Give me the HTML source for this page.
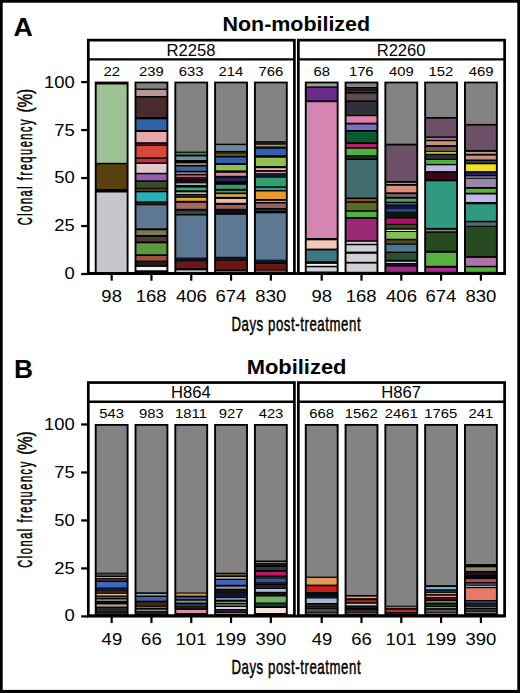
<!DOCTYPE html>
<html><head><meta charset="utf-8"><style>
html,body{margin:0;padding:0;background:#fff;}
body{width:520px;height:693px;overflow:hidden;}
svg{display:block;font-family:"Liberation Sans", sans-serif;}
</style></head><body>
<svg width="520" height="693" viewBox="0 0 520 693">
<rect x="0" y="0" width="520" height="693" fill="#fff"/>
<text x="13.51" y="35.80" font-size="26.31" font-weight="bold" textLength="19.29" lengthAdjust="spacingAndGlyphs" fill="#000">A</text>
<text x="222.49" y="31.40" font-size="20.30" font-weight="bold" textLength="147.59" lengthAdjust="spacingAndGlyphs" fill="#000">Non-mobilized</text>
<rect x="88.30" y="40.15" width="206.10" height="233.15" fill="#fff" stroke="#000" stroke-width="2.7"/>
<line x1="88.30" y1="59.35" x2="294.40" y2="59.35" stroke="#000" stroke-width="2.4"/>
<text x="166.58" y="55.70" font-size="16.60" font-weight="normal" textLength="48.92" lengthAdjust="spacingAndGlyphs">R2258</text>
<text x="103.41" y="76.00" font-size="13.60" font-weight="normal" textLength="16.49" lengthAdjust="spacingAndGlyphs">22</text>
<text x="139.07" y="76.00" font-size="13.60" font-weight="normal" textLength="24.73" lengthAdjust="spacingAndGlyphs">239</text>
<text x="178.84" y="76.00" font-size="13.60" font-weight="normal" textLength="24.73" lengthAdjust="spacingAndGlyphs">633</text>
<text x="218.52" y="76.00" font-size="13.60" font-weight="normal" textLength="24.73" lengthAdjust="spacingAndGlyphs">214</text>
<text x="258.43" y="76.00" font-size="13.60" font-weight="normal" textLength="24.73" lengthAdjust="spacingAndGlyphs">766</text>
<rect x="94.75" y="81.60" width="33.80" height="191.90" fill="#000"/>
<rect x="96.65" y="84.50" width="30.00" height="78.30" fill="#9ec296"/>
<rect x="96.65" y="164.30" width="30.00" height="24.70" fill="#5a400c"/>
<rect x="96.65" y="192.50" width="30.00" height="79.50" fill="#c8c6cb"/>
<rect x="134.55" y="81.60" width="33.80" height="191.90" fill="#000"/>
<rect x="136.45" y="83.40" width="30.00" height="5.20" fill="#838383"/>
<rect x="136.45" y="89.90" width="30.00" height="6.10" fill="#b49896"/>
<rect x="136.45" y="97.50" width="30.00" height="19.50" fill="#4a2a2c"/>
<rect x="136.45" y="119.30" width="30.00" height="10.70" fill="#2f62a8"/>
<rect x="136.45" y="132.00" width="30.00" height="10.20" fill="#e6a8aa"/>
<rect x="136.45" y="143.50" width="30.00" height="1.50" fill="#401818"/>
<rect x="136.45" y="145.80" width="30.00" height="11.60" fill="#d8483a"/>
<rect x="136.45" y="158.80" width="30.00" height="3.60" fill="#b83050"/>
<rect x="136.45" y="163.90" width="30.00" height="8.90" fill="#e2c8c8"/>
<rect x="136.45" y="174.30" width="30.00" height="6.00" fill="#9060a8"/>
<rect x="136.45" y="181.80" width="30.00" height="6.00" fill="#3b4a2b"/>
<rect x="136.45" y="188.80" width="30.00" height="2.00" fill="#5a4020"/>
<rect x="136.45" y="192.30" width="30.00" height="9.00" fill="#2ab0b8"/>
<rect x="136.45" y="202.50" width="30.00" height="1.80" fill="#2a2010"/>
<rect x="136.45" y="205.30" width="30.00" height="23.00" fill="#5c7892"/>
<rect x="136.45" y="230.30" width="30.00" height="4.70" fill="#7a7a50"/>
<rect x="136.45" y="236.90" width="30.00" height="4.50" fill="#4a4030"/>
<rect x="136.45" y="243.30" width="30.00" height="11.00" fill="#5a9a3a"/>
<rect x="136.45" y="256.00" width="30.00" height="4.60" fill="#a05040"/>
<rect x="136.45" y="262.00" width="30.00" height="3.50" fill="#2a1a1a"/>
<rect x="136.45" y="266.90" width="30.00" height="3.40" fill="#f0f0f0"/>
<rect x="174.35" y="81.60" width="33.80" height="191.90" fill="#000"/>
<rect x="176.25" y="83.40" width="30.00" height="68.20" fill="#838383"/>
<rect x="176.25" y="152.80" width="30.00" height="1.80" fill="#4a8a5a"/>
<rect x="176.25" y="156.50" width="30.00" height="3.50" fill="#7090a0"/>
<rect x="176.25" y="163.30" width="30.00" height="1.60" fill="#b0a050"/>
<rect x="176.25" y="166.50" width="30.00" height="4.30" fill="#3a64a8"/>
<rect x="176.25" y="172.50" width="30.00" height="1.30" fill="#c8a888"/>
<rect x="176.25" y="175.50" width="30.00" height="1.30" fill="#d09090"/>
<rect x="176.25" y="177.30" width="30.00" height="2.20" fill="#401020"/>
<rect x="176.25" y="180.50" width="30.00" height="1.80" fill="#101830"/>
<rect x="176.25" y="183.30" width="30.00" height="1.70" fill="#b0b0b0"/>
<rect x="176.25" y="187.60" width="30.00" height="2.70" fill="#30a890"/>
<rect x="176.25" y="192.30" width="30.00" height="1.70" fill="#b8b0a0"/>
<rect x="176.25" y="195.00" width="30.00" height="1.80" fill="#183020"/>
<rect x="176.25" y="197.80" width="30.00" height="3.00" fill="#e0a830"/>
<rect x="176.25" y="202.80" width="30.00" height="6.00" fill="#a86860"/>
<rect x="176.25" y="210.70" width="30.00" height="3.30" fill="#2a4a40"/>
<rect x="176.25" y="215.50" width="30.00" height="42.10" fill="#5c7892"/>
<rect x="176.25" y="258.30" width="30.00" height="2.00" fill="#101830"/>
<rect x="176.25" y="261.30" width="30.00" height="6.80" fill="#6a1818"/>
<rect x="176.25" y="270.30" width="30.00" height="1.70" fill="#c0c0c0"/>
<rect x="214.15" y="81.60" width="33.80" height="191.90" fill="#000"/>
<rect x="216.05" y="83.40" width="30.00" height="60.30" fill="#838383"/>
<rect x="216.05" y="145.10" width="30.00" height="5.80" fill="#6a8a98"/>
<rect x="216.05" y="152.30" width="30.00" height="2.20" fill="#3a2a10"/>
<rect x="216.05" y="154.50" width="30.00" height="1.00" fill="#b09060"/>
<rect x="216.05" y="157.40" width="30.00" height="5.70" fill="#3060b0"/>
<rect x="216.05" y="165.00" width="30.00" height="5.40" fill="#90c050"/>
<rect x="216.05" y="172.80" width="30.00" height="3.00" fill="#e08890"/>
<rect x="216.05" y="177.70" width="30.00" height="3.60" fill="#302060"/>
<rect x="216.05" y="184.80" width="30.00" height="4.00" fill="#30a070"/>
<rect x="216.05" y="190.80" width="30.00" height="1.70" fill="#5090a0"/>
<rect x="216.05" y="194.20" width="30.00" height="2.60" fill="#e0b040"/>
<rect x="216.05" y="199.00" width="30.00" height="3.80" fill="#f0b8a8"/>
<rect x="216.05" y="205.00" width="30.00" height="3.80" fill="#a06060"/>
<rect x="216.05" y="209.80" width="30.00" height="3.70" fill="#101018"/>
<rect x="216.05" y="214.80" width="30.00" height="42.00" fill="#5c7892"/>
<rect x="216.05" y="257.80" width="30.00" height="1.80" fill="#101830"/>
<rect x="216.05" y="260.60" width="30.00" height="9.00" fill="#6a1515"/>
<rect x="216.05" y="271.00" width="30.00" height="1.00" fill="#905050"/>
<rect x="253.95" y="81.60" width="33.80" height="191.90" fill="#000"/>
<rect x="255.85" y="83.40" width="30.00" height="57.80" fill="#838383"/>
<rect x="255.85" y="142.20" width="30.00" height="1.60" fill="#202020"/>
<rect x="255.85" y="144.70" width="30.00" height="1.80" fill="#a09a50"/>
<rect x="255.85" y="148.70" width="30.00" height="6.50" fill="#3060b0"/>
<rect x="255.85" y="157.70" width="30.00" height="8.30" fill="#90c048"/>
<rect x="255.85" y="168.20" width="30.00" height="1.80" fill="#f0b8a0"/>
<rect x="255.85" y="171.80" width="30.00" height="1.40" fill="#d09090"/>
<rect x="255.85" y="174.00" width="30.00" height="3.00" fill="#101830"/>
<rect x="255.85" y="177.70" width="30.00" height="8.60" fill="#30a070"/>
<rect x="255.85" y="187.80" width="30.00" height="2.20" fill="#3a9a9a"/>
<rect x="255.85" y="191.50" width="30.00" height="7.50" fill="#e89a28"/>
<rect x="255.85" y="200.80" width="30.00" height="1.20" fill="#c0a080"/>
<rect x="255.85" y="203.50" width="30.00" height="4.50" fill="#9a6060"/>
<rect x="255.85" y="209.50" width="30.00" height="1.50" fill="#303040"/>
<rect x="255.85" y="213.30" width="30.00" height="46.50" fill="#5c7892"/>
<rect x="255.85" y="259.80" width="30.00" height="2.70" fill="#101830"/>
<rect x="255.85" y="263.90" width="30.00" height="5.70" fill="#6a1818"/>
<rect x="255.85" y="270.50" width="30.00" height="1.50" fill="#8a4a4a"/>
<line x1="111.65" y1="273.70" x2="111.65" y2="280.70" stroke="#000" stroke-width="2.2"/>
<text x="101.36" y="302.20" font-size="16.50" font-weight="normal" textLength="20.56" lengthAdjust="spacingAndGlyphs">98</text>
<line x1="151.45" y1="273.70" x2="151.45" y2="280.70" stroke="#000" stroke-width="2.2"/>
<text x="135.74" y="302.20" font-size="16.50" font-weight="normal" textLength="30.83" lengthAdjust="spacingAndGlyphs">168</text>
<line x1="191.25" y1="273.70" x2="191.25" y2="280.70" stroke="#000" stroke-width="2.2"/>
<text x="176.04" y="302.20" font-size="16.50" font-weight="normal" textLength="30.83" lengthAdjust="spacingAndGlyphs">406</text>
<line x1="231.05" y1="273.70" x2="231.05" y2="280.70" stroke="#000" stroke-width="2.2"/>
<text x="215.43" y="302.20" font-size="16.50" font-weight="normal" textLength="30.83" lengthAdjust="spacingAndGlyphs">674</text>
<line x1="270.85" y1="273.70" x2="270.85" y2="280.70" stroke="#000" stroke-width="2.2"/>
<text x="255.38" y="302.20" font-size="16.50" font-weight="normal" textLength="30.83" lengthAdjust="spacingAndGlyphs">830</text>
<rect x="298.35" y="40.15" width="206.25" height="233.15" fill="#fff" stroke="#000" stroke-width="2.7"/>
<line x1="298.35" y1="59.35" x2="504.60" y2="59.35" stroke="#000" stroke-width="2.4"/>
<text x="376.66" y="55.70" font-size="16.60" font-weight="normal" textLength="48.92" lengthAdjust="spacingAndGlyphs">R2260</text>
<text x="313.41" y="76.00" font-size="13.60" font-weight="normal" textLength="16.49" lengthAdjust="spacingAndGlyphs">68</text>
<text x="348.90" y="76.00" font-size="13.60" font-weight="normal" textLength="24.73" lengthAdjust="spacingAndGlyphs">176</text>
<text x="389.13" y="76.00" font-size="13.60" font-weight="normal" textLength="24.73" lengthAdjust="spacingAndGlyphs">409</text>
<text x="428.54" y="76.00" font-size="13.60" font-weight="normal" textLength="24.73" lengthAdjust="spacingAndGlyphs">152</text>
<text x="468.73" y="76.00" font-size="13.60" font-weight="normal" textLength="24.73" lengthAdjust="spacingAndGlyphs">469</text>
<rect x="304.80" y="81.60" width="33.80" height="191.90" fill="#000"/>
<rect x="306.70" y="83.40" width="30.00" height="3.00" fill="#9aa098"/>
<rect x="306.70" y="87.80" width="30.00" height="12.60" fill="#6a2a8a"/>
<rect x="306.70" y="102.20" width="30.00" height="135.80" fill="#d585b2"/>
<rect x="306.70" y="240.30" width="30.00" height="8.30" fill="#f4c8b8"/>
<rect x="306.70" y="250.40" width="30.00" height="10.90" fill="#3a7a80"/>
<rect x="306.70" y="263.90" width="30.00" height="1.90" fill="#f0f0f0"/>
<rect x="306.70" y="267.30" width="30.00" height="4.20" fill="#d0d0d8"/>
<rect x="344.60" y="81.60" width="33.80" height="191.90" fill="#000"/>
<rect x="346.50" y="83.40" width="30.00" height="3.60" fill="#838383"/>
<rect x="346.50" y="88.40" width="30.00" height="1.10" fill="#3a3030"/>
<rect x="346.50" y="90.50" width="30.00" height="1.50" fill="#3a3030"/>
<rect x="346.50" y="93.60" width="30.00" height="6.80" fill="#5a4a50"/>
<rect x="346.50" y="101.80" width="30.00" height="13.00" fill="#303038"/>
<rect x="346.50" y="116.20" width="30.00" height="6.50" fill="#e080b0"/>
<rect x="346.50" y="124.50" width="30.00" height="5.50" fill="#7a70c0"/>
<rect x="346.50" y="131.70" width="30.00" height="10.50" fill="#0a5a30"/>
<rect x="346.50" y="144.10" width="30.00" height="2.90" fill="#c02070"/>
<rect x="346.50" y="148.70" width="30.00" height="6.50" fill="#50b040"/>
<rect x="346.50" y="156.50" width="30.00" height="2.00" fill="#203020"/>
<rect x="346.50" y="160.00" width="30.00" height="37.50" fill="#416c70"/>
<rect x="346.50" y="199.00" width="30.00" height="2.30" fill="#8a5030"/>
<rect x="346.50" y="202.80" width="30.00" height="7.50" fill="#5a6a20"/>
<rect x="346.50" y="211.80" width="30.00" height="5.20" fill="#50b040"/>
<rect x="346.50" y="218.80" width="30.00" height="21.50" fill="#9c2878"/>
<rect x="346.50" y="241.80" width="30.00" height="2.00" fill="#d0d0d4"/>
<rect x="346.50" y="245.30" width="30.00" height="6.30" fill="#d0d0d4"/>
<rect x="346.50" y="253.80" width="30.00" height="8.00" fill="#d0d0d4"/>
<rect x="346.50" y="263.60" width="30.00" height="8.20" fill="#d0d0d4"/>
<rect x="384.40" y="81.60" width="33.80" height="191.90" fill="#000"/>
<rect x="386.30" y="83.40" width="30.00" height="60.30" fill="#838383"/>
<rect x="386.30" y="145.50" width="30.00" height="35.50" fill="#6b5068"/>
<rect x="386.30" y="182.80" width="30.00" height="1.20" fill="#b09080"/>
<rect x="386.30" y="185.80" width="30.00" height="6.50" fill="#d89078"/>
<rect x="386.30" y="194.20" width="30.00" height="2.60" fill="#806878"/>
<rect x="386.30" y="198.70" width="30.00" height="3.00" fill="#50a060"/>
<rect x="386.30" y="203.20" width="30.00" height="1.30" fill="#5070a0"/>
<rect x="386.30" y="205.50" width="30.00" height="3.00" fill="#101840"/>
<rect x="386.30" y="208.80" width="30.00" height="3.00" fill="#304090"/>
<rect x="386.30" y="212.50" width="30.00" height="4.50" fill="#0a1a0a"/>
<rect x="386.30" y="218.50" width="30.00" height="5.30" fill="#b0106a"/>
<rect x="386.30" y="224.80" width="30.00" height="3.50" fill="#3a4a18"/>
<rect x="386.30" y="229.80" width="30.00" height="1.20" fill="#e0e0e0"/>
<rect x="386.30" y="232.00" width="30.00" height="6.80" fill="#80c050"/>
<rect x="386.30" y="240.30" width="30.00" height="3.20" fill="#504a30"/>
<rect x="386.30" y="244.80" width="30.00" height="6.80" fill="#4a7890"/>
<rect x="386.30" y="253.00" width="30.00" height="6.80" fill="#2a5030"/>
<rect x="386.30" y="261.80" width="30.00" height="1.20" fill="#c8c8e0"/>
<rect x="386.30" y="264.00" width="30.00" height="1.50" fill="#101020"/>
<rect x="386.30" y="266.60" width="30.00" height="5.20" fill="#a02888"/>
<rect x="424.20" y="81.60" width="33.80" height="191.90" fill="#000"/>
<rect x="426.10" y="83.40" width="30.00" height="33.60" fill="#838383"/>
<rect x="426.10" y="118.70" width="30.00" height="17.70" fill="#6b5068"/>
<rect x="426.10" y="137.90" width="30.00" height="1.90" fill="#9878a0"/>
<rect x="426.10" y="141.20" width="30.00" height="3.90" fill="#c89070"/>
<rect x="426.10" y="147.00" width="30.00" height="3.90" fill="#6a5a60"/>
<rect x="426.10" y="151.90" width="30.00" height="1.90" fill="#c0c040"/>
<rect x="426.10" y="155.20" width="30.00" height="3.60" fill="#303030"/>
<rect x="426.10" y="160.00" width="30.00" height="3.90" fill="#50b040"/>
<rect x="426.10" y="165.30" width="30.00" height="5.80" fill="#c0b8e0"/>
<rect x="426.10" y="172.70" width="30.00" height="6.80" fill="#380818"/>
<rect x="426.10" y="181.30" width="30.00" height="46.60" fill="#309a80"/>
<rect x="426.10" y="229.80" width="30.00" height="1.50" fill="#808890"/>
<rect x="426.10" y="232.80" width="30.00" height="18.00" fill="#274a20"/>
<rect x="426.10" y="252.80" width="30.00" height="13.00" fill="#58b040"/>
<rect x="426.10" y="267.80" width="30.00" height="4.00" fill="#b02890"/>
<rect x="464.00" y="81.60" width="33.80" height="191.90" fill="#000"/>
<rect x="465.90" y="83.40" width="30.00" height="40.50" fill="#838383"/>
<rect x="465.90" y="125.60" width="30.00" height="24.30" fill="#6b5068"/>
<rect x="465.90" y="151.90" width="30.00" height="1.90" fill="#c09888"/>
<rect x="465.90" y="155.60" width="30.00" height="3.90" fill="#c89080"/>
<rect x="465.90" y="161.00" width="30.00" height="1.80" fill="#404040"/>
<rect x="465.90" y="164.30" width="30.00" height="6.80" fill="#f0e020"/>
<rect x="465.90" y="172.50" width="30.00" height="2.50" fill="#202060"/>
<rect x="465.90" y="176.20" width="30.00" height="1.80" fill="#707078"/>
<rect x="465.90" y="178.80" width="30.00" height="8.20" fill="#9888a8"/>
<rect x="465.90" y="188.80" width="30.00" height="3.90" fill="#60b040"/>
<rect x="465.90" y="194.50" width="30.00" height="7.50" fill="#c0b8e8"/>
<rect x="465.90" y="204.30" width="30.00" height="16.50" fill="#309a80"/>
<rect x="465.90" y="222.30" width="30.00" height="3.50" fill="#506870"/>
<rect x="465.90" y="226.80" width="30.00" height="29.30" fill="#274a20"/>
<rect x="465.90" y="257.90" width="30.00" height="7.90" fill="#b070a8"/>
<rect x="465.90" y="267.30" width="30.00" height="4.50" fill="#50b040"/>
<line x1="321.70" y1="273.70" x2="321.70" y2="280.70" stroke="#000" stroke-width="2.2"/>
<text x="311.41" y="302.20" font-size="16.50" font-weight="normal" textLength="20.56" lengthAdjust="spacingAndGlyphs">98</text>
<line x1="361.50" y1="273.70" x2="361.50" y2="280.70" stroke="#000" stroke-width="2.2"/>
<text x="345.79" y="302.20" font-size="16.50" font-weight="normal" textLength="30.83" lengthAdjust="spacingAndGlyphs">168</text>
<line x1="401.30" y1="273.70" x2="401.30" y2="280.70" stroke="#000" stroke-width="2.2"/>
<text x="386.09" y="302.20" font-size="16.50" font-weight="normal" textLength="30.83" lengthAdjust="spacingAndGlyphs">406</text>
<line x1="441.10" y1="273.70" x2="441.10" y2="280.70" stroke="#000" stroke-width="2.2"/>
<text x="425.48" y="302.20" font-size="16.50" font-weight="normal" textLength="30.83" lengthAdjust="spacingAndGlyphs">674</text>
<line x1="480.90" y1="273.70" x2="480.90" y2="280.70" stroke="#000" stroke-width="2.2"/>
<text x="465.43" y="302.20" font-size="16.50" font-weight="normal" textLength="30.83" lengthAdjust="spacingAndGlyphs">830</text>
<line x1="87.0" y1="273.70" x2="505.75" y2="273.70" stroke="#000" stroke-width="2.8"/>
<line x1="81.2" y1="274.00" x2="88.5" y2="274.00" stroke="#000" stroke-width="2.25"/>
<text x="64.56" y="278.85" font-size="16.60" font-weight="normal" textLength="10.25" lengthAdjust="spacingAndGlyphs">0</text>
<line x1="81.2" y1="226.02" x2="88.5" y2="226.02" stroke="#000" stroke-width="2.25"/>
<text x="54.38" y="231.12" font-size="16.60" font-weight="normal" textLength="20.50" lengthAdjust="spacingAndGlyphs">25</text>
<line x1="81.2" y1="178.04" x2="88.5" y2="178.04" stroke="#000" stroke-width="2.25"/>
<text x="54.31" y="183.39" font-size="16.60" font-weight="normal" textLength="20.50" lengthAdjust="spacingAndGlyphs">50</text>
<line x1="81.2" y1="130.06" x2="88.5" y2="130.06" stroke="#000" stroke-width="2.25"/>
<text x="54.38" y="135.66" font-size="16.60" font-weight="normal" textLength="20.50" lengthAdjust="spacingAndGlyphs">75</text>
<line x1="81.2" y1="82.08" x2="88.5" y2="82.08" stroke="#000" stroke-width="2.25"/>
<text x="44.07" y="87.93" font-size="16.60" font-weight="normal" textLength="30.74" lengthAdjust="spacingAndGlyphs">100</text>
<text transform="translate(31.80,225.25) rotate(-90) scale(0.56,1)" x="0" y="0" font-size="19.70" font-weight="normal" letter-spacing="2.749" stroke="#000" stroke-width="0.5">Clonal frequency</text>
<text transform="translate(31.80,112.45) rotate(-90) scale(0.78,1)" x="0" y="0" font-size="19.70" font-weight="normal" letter-spacing="-0.195" stroke="#000" stroke-width="0.5">(%)</text>
<text transform="translate(231.41,331.10) scale(0.64,1)" x="0" y="0" font-size="20.70" font-weight="normal" letter-spacing="0.869" stroke="#000" stroke-width="0.5">Days post-treatment</text>
<text x="14.06" y="377.80" font-size="25.87" font-weight="bold" textLength="19.06" lengthAdjust="spacingAndGlyphs" fill="#000">B</text>
<text x="246.65" y="373.80" font-size="20.30" font-weight="bold" textLength="99.88" lengthAdjust="spacingAndGlyphs" fill="#000">Mobilized</text>
<rect x="88.30" y="382.55" width="206.10" height="233.15" fill="#fff" stroke="#000" stroke-width="2.7"/>
<line x1="88.30" y1="401.75" x2="294.40" y2="401.75" stroke="#000" stroke-width="2.4"/>
<text x="171.06" y="398.10" font-size="16.60" font-weight="normal" textLength="39.68" lengthAdjust="spacingAndGlyphs">H864</text>
<text x="99.32" y="418.40" font-size="13.60" font-weight="normal" textLength="24.73" lengthAdjust="spacingAndGlyphs">543</text>
<text x="139.07" y="418.40" font-size="13.60" font-weight="normal" textLength="24.73" lengthAdjust="spacingAndGlyphs">983</text>
<text x="175.11" y="418.40" font-size="13.60" font-weight="normal" textLength="31.88" lengthAdjust="spacingAndGlyphs">1811</text>
<text x="218.72" y="418.40" font-size="13.60" font-weight="normal" textLength="24.73" lengthAdjust="spacingAndGlyphs">927</text>
<text x="258.65" y="418.40" font-size="13.60" font-weight="normal" textLength="24.73" lengthAdjust="spacingAndGlyphs">423</text>
<rect x="94.75" y="424.00" width="33.80" height="191.90" fill="#000"/>
<rect x="96.65" y="425.80" width="30.00" height="146.90" fill="#838383"/>
<rect x="96.65" y="573.50" width="30.00" height="2.40" fill="#404838"/>
<rect x="96.65" y="577.00" width="30.00" height="0.90" fill="#b0c0c0"/>
<rect x="96.65" y="578.60" width="30.00" height="2.40" fill="#3a2818"/>
<rect x="96.65" y="582.00" width="30.00" height="5.60" fill="#3a68c0"/>
<rect x="96.65" y="587.60" width="30.00" height="3.10" fill="#101838"/>
<rect x="96.65" y="590.70" width="30.00" height="2.60" fill="#3a2020"/>
<rect x="96.65" y="593.90" width="30.00" height="1.60" fill="#d0b890"/>
<rect x="96.65" y="596.90" width="30.00" height="0.90" fill="#807080"/>
<rect x="96.65" y="599.30" width="30.00" height="1.70" fill="#888870"/>
<rect x="96.65" y="601.50" width="30.00" height="2.00" fill="#080818"/>
<rect x="96.65" y="604.40" width="30.00" height="2.20" fill="#b0a890"/>
<rect x="96.65" y="607.80" width="30.00" height="1.70" fill="#202838"/>
<rect x="96.65" y="609.50" width="30.00" height="2.00" fill="#402830"/>
<rect x="96.65" y="612.70" width="30.00" height="1.30" fill="#204030"/>
<rect x="134.55" y="424.00" width="33.80" height="191.90" fill="#000"/>
<rect x="136.45" y="425.80" width="30.00" height="166.50" fill="#838383"/>
<rect x="136.45" y="593.90" width="30.00" height="1.60" fill="#90b0b0"/>
<rect x="136.45" y="597.00" width="30.00" height="3.70" fill="#4262b0"/>
<rect x="136.45" y="602.30" width="30.00" height="3.40" fill="#3a2c10"/>
<rect x="136.45" y="606.80" width="30.00" height="1.20" fill="#806070"/>
<rect x="136.45" y="609.70" width="30.00" height="1.30" fill="#a09090"/>
<rect x="136.45" y="611.80" width="30.00" height="2.20" fill="#202020"/>
<rect x="174.35" y="424.00" width="33.80" height="191.90" fill="#000"/>
<rect x="176.25" y="425.80" width="30.00" height="166.70" fill="#838383"/>
<rect x="176.25" y="593.60" width="30.00" height="2.10" fill="#c8a040"/>
<rect x="176.25" y="597.30" width="30.00" height="1.90" fill="#4060a0"/>
<rect x="176.25" y="600.70" width="30.00" height="1.90" fill="#a08888"/>
<rect x="176.25" y="604.20" width="30.00" height="2.10" fill="#204840"/>
<rect x="176.25" y="607.00" width="30.00" height="1.50" fill="#202020"/>
<rect x="176.25" y="609.90" width="30.00" height="3.10" fill="#d890a0"/>
<rect x="214.15" y="424.00" width="33.80" height="191.90" fill="#000"/>
<rect x="216.05" y="425.80" width="30.00" height="146.90" fill="#838383"/>
<rect x="216.05" y="573.90" width="30.00" height="1.60" fill="#6a5a38"/>
<rect x="216.05" y="577.00" width="30.00" height="1.70" fill="#d8a878"/>
<rect x="216.05" y="580.00" width="30.00" height="4.80" fill="#3a68c0"/>
<rect x="216.05" y="586.60" width="30.00" height="2.20" fill="#a08898"/>
<rect x="216.05" y="590.00" width="30.00" height="2.50" fill="#0c1a14"/>
<rect x="216.05" y="592.80" width="30.00" height="2.20" fill="#1c1424"/>
<rect x="216.05" y="595.30" width="30.00" height="1.70" fill="#101840"/>
<rect x="216.05" y="598.10" width="30.00" height="1.60" fill="#90a0c8"/>
<rect x="216.05" y="601.80" width="30.00" height="1.20" fill="#80a070"/>
<rect x="216.05" y="604.20" width="30.00" height="1.60" fill="#707870"/>
<rect x="216.05" y="607.00" width="30.00" height="2.00" fill="#c0d0f0"/>
<rect x="216.05" y="609.80" width="30.00" height="2.50" fill="#401020"/>
<rect x="216.05" y="613.00" width="30.00" height="1.00" fill="#808080"/>
<rect x="253.95" y="424.00" width="33.80" height="191.90" fill="#000"/>
<rect x="255.85" y="425.80" width="30.00" height="134.70" fill="#838383"/>
<rect x="255.85" y="562.00" width="30.00" height="1.00" fill="#808080"/>
<rect x="255.85" y="563.50" width="30.00" height="2.00" fill="#181818"/>
<rect x="255.85" y="567.00" width="30.00" height="3.00" fill="#204040"/>
<rect x="255.85" y="571.80" width="30.00" height="3.70" fill="#c01860"/>
<rect x="255.85" y="576.50" width="30.00" height="1.50" fill="#201828"/>
<rect x="255.85" y="578.50" width="30.00" height="3.50" fill="#405080"/>
<rect x="255.85" y="582.00" width="30.00" height="2.00" fill="#101840"/>
<rect x="255.85" y="585.00" width="30.00" height="3.00" fill="#301828"/>
<rect x="255.85" y="589.00" width="30.00" height="2.80" fill="#a0c0e0"/>
<rect x="255.85" y="593.00" width="30.00" height="2.50" fill="#101010"/>
<rect x="255.85" y="596.50" width="30.00" height="6.00" fill="#70b060"/>
<rect x="255.85" y="603.80" width="30.00" height="2.40" fill="#104030"/>
<rect x="255.85" y="608.00" width="30.00" height="5.00" fill="#f8e0e0"/>
<line x1="111.65" y1="616.10" x2="111.65" y2="623.10" stroke="#000" stroke-width="2.2"/>
<text x="101.62" y="644.60" font-size="16.50" font-weight="normal" textLength="20.56" lengthAdjust="spacingAndGlyphs">49</text>
<line x1="151.45" y1="616.10" x2="151.45" y2="623.10" stroke="#000" stroke-width="2.2"/>
<text x="141.12" y="644.60" font-size="16.50" font-weight="normal" textLength="20.56" lengthAdjust="spacingAndGlyphs">66</text>
<line x1="191.25" y1="616.10" x2="191.25" y2="623.10" stroke="#000" stroke-width="2.2"/>
<text x="175.58" y="644.60" font-size="16.50" font-weight="normal" textLength="30.83" lengthAdjust="spacingAndGlyphs">101</text>
<line x1="231.05" y1="616.10" x2="231.05" y2="623.10" stroke="#000" stroke-width="2.2"/>
<text x="215.38" y="644.60" font-size="16.50" font-weight="normal" textLength="30.83" lengthAdjust="spacingAndGlyphs">199</text>
<line x1="270.85" y1="616.10" x2="270.85" y2="623.10" stroke="#000" stroke-width="2.2"/>
<text x="255.44" y="644.60" font-size="16.50" font-weight="normal" textLength="30.83" lengthAdjust="spacingAndGlyphs">390</text>
<rect x="298.35" y="382.55" width="206.25" height="233.15" fill="#fff" stroke="#000" stroke-width="2.7"/>
<line x1="298.35" y1="401.75" x2="504.60" y2="401.75" stroke="#000" stroke-width="2.4"/>
<text x="381.37" y="398.10" font-size="16.60" font-weight="normal" textLength="39.68" lengthAdjust="spacingAndGlyphs">H867</text>
<text x="309.29" y="418.40" font-size="13.60" font-weight="normal" textLength="24.73" lengthAdjust="spacingAndGlyphs">668</text>
<text x="344.82" y="418.40" font-size="13.60" font-weight="normal" textLength="32.98" lengthAdjust="spacingAndGlyphs">1562</text>
<text x="384.80" y="418.40" font-size="13.60" font-weight="normal" textLength="32.98" lengthAdjust="spacingAndGlyphs">2461</text>
<text x="424.36" y="418.40" font-size="13.60" font-weight="normal" textLength="32.98" lengthAdjust="spacingAndGlyphs">1765</text>
<text x="468.52" y="418.40" font-size="13.60" font-weight="normal" textLength="24.73" lengthAdjust="spacingAndGlyphs">241</text>
<rect x="304.80" y="424.00" width="33.80" height="191.90" fill="#000"/>
<rect x="306.70" y="425.80" width="30.00" height="150.80" fill="#838383"/>
<rect x="306.70" y="577.90" width="30.00" height="6.70" fill="#e09a58"/>
<rect x="306.70" y="586.20" width="30.00" height="5.80" fill="#c81c1c"/>
<rect x="306.70" y="593.50" width="30.00" height="2.00" fill="#0c0c10"/>
<rect x="306.70" y="596.10" width="30.00" height="1.40" fill="#101838"/>
<rect x="306.70" y="598.50" width="30.00" height="4.50" fill="#a8b8d0"/>
<rect x="306.70" y="604.50" width="30.00" height="1.70" fill="#3a2a28"/>
<rect x="306.70" y="607.00" width="30.00" height="1.20" fill="#302420"/>
<rect x="306.70" y="609.00" width="30.00" height="3.30" fill="#504540"/>
<rect x="306.70" y="613.20" width="30.00" height="1.00" fill="#707070"/>
<rect x="344.60" y="424.00" width="33.80" height="191.90" fill="#000"/>
<rect x="346.50" y="425.80" width="30.00" height="169.20" fill="#838383"/>
<rect x="346.50" y="596.60" width="30.00" height="1.60" fill="#e0a070"/>
<rect x="346.50" y="600.20" width="30.00" height="2.10" fill="#b02020"/>
<rect x="346.50" y="603.80" width="30.00" height="1.60" fill="#c0d0d0"/>
<rect x="346.50" y="606.50" width="30.00" height="2.00" fill="#10141c"/>
<rect x="346.50" y="609.80" width="30.00" height="2.10" fill="#402828"/>
<rect x="346.50" y="612.70" width="30.00" height="1.10" fill="#707070"/>
<rect x="384.40" y="424.00" width="33.80" height="191.90" fill="#000"/>
<rect x="386.30" y="425.80" width="30.00" height="179.90" fill="#838383"/>
<rect x="386.30" y="606.80" width="30.00" height="1.30" fill="#908060"/>
<rect x="386.30" y="609.70" width="30.00" height="2.30" fill="#c02828"/>
<rect x="386.30" y="612.50" width="30.00" height="1.50" fill="#401010"/>
<rect x="424.20" y="424.00" width="33.80" height="191.90" fill="#000"/>
<rect x="426.10" y="425.80" width="30.00" height="159.30" fill="#838383"/>
<rect x="426.10" y="587.00" width="30.00" height="2.40" fill="#70b0d0"/>
<rect x="426.10" y="589.60" width="30.00" height="1.00" fill="#101828"/>
<rect x="426.10" y="590.90" width="30.00" height="0.90" fill="#403820"/>
<rect x="426.10" y="592.90" width="30.00" height="1.10" fill="#b09878"/>
<rect x="426.10" y="594.20" width="30.00" height="1.30" fill="#301010"/>
<rect x="426.10" y="595.80" width="30.00" height="1.20" fill="#e09080"/>
<rect x="426.10" y="597.20" width="30.00" height="2.60" fill="#401010"/>
<rect x="426.10" y="601.30" width="30.00" height="1.20" fill="#a0b0a0"/>
<rect x="426.10" y="604.00" width="30.00" height="2.00" fill="#103010"/>
<rect x="426.10" y="607.10" width="30.00" height="1.00" fill="#90a888"/>
<rect x="426.10" y="609.70" width="30.00" height="2.60" fill="#605048"/>
<rect x="426.10" y="613.00" width="30.00" height="1.00" fill="#707070"/>
<rect x="464.00" y="424.00" width="33.80" height="191.90" fill="#000"/>
<rect x="465.90" y="425.80" width="30.00" height="138.30" fill="#838383"/>
<rect x="465.90" y="567.30" width="30.00" height="3.60" fill="#8a8a68"/>
<rect x="465.90" y="572.50" width="30.00" height="1.00" fill="#301a30"/>
<rect x="465.90" y="574.00" width="30.00" height="1.00" fill="#201020"/>
<rect x="465.90" y="579.10" width="30.00" height="3.00" fill="#b84462"/>
<rect x="465.90" y="583.20" width="30.00" height="2.30" fill="#404850"/>
<rect x="465.90" y="585.90" width="30.00" height="1.10" fill="#a0a8b0"/>
<rect x="465.90" y="588.20" width="30.00" height="11.80" fill="#e87868"/>
<rect x="465.90" y="600.90" width="30.00" height="2.30" fill="#303840"/>
<rect x="465.90" y="603.50" width="30.00" height="2.50" fill="#102030"/>
<rect x="465.90" y="606.80" width="30.00" height="1.10" fill="#707880"/>
<rect x="465.90" y="609.50" width="30.00" height="1.00" fill="#606060"/>
<rect x="465.90" y="611.80" width="30.00" height="1.40" fill="#807868"/>
<line x1="321.70" y1="616.10" x2="321.70" y2="623.10" stroke="#000" stroke-width="2.2"/>
<text x="311.67" y="644.60" font-size="16.50" font-weight="normal" textLength="20.56" lengthAdjust="spacingAndGlyphs">49</text>
<line x1="361.50" y1="616.10" x2="361.50" y2="623.10" stroke="#000" stroke-width="2.2"/>
<text x="351.17" y="644.60" font-size="16.50" font-weight="normal" textLength="20.56" lengthAdjust="spacingAndGlyphs">66</text>
<line x1="401.30" y1="616.10" x2="401.30" y2="623.10" stroke="#000" stroke-width="2.2"/>
<text x="385.63" y="644.60" font-size="16.50" font-weight="normal" textLength="30.83" lengthAdjust="spacingAndGlyphs">101</text>
<line x1="441.10" y1="616.10" x2="441.10" y2="623.10" stroke="#000" stroke-width="2.2"/>
<text x="425.43" y="644.60" font-size="16.50" font-weight="normal" textLength="30.83" lengthAdjust="spacingAndGlyphs">199</text>
<line x1="480.90" y1="616.10" x2="480.90" y2="623.10" stroke="#000" stroke-width="2.2"/>
<text x="465.49" y="644.60" font-size="16.50" font-weight="normal" textLength="30.83" lengthAdjust="spacingAndGlyphs">390</text>
<line x1="87.0" y1="616.10" x2="505.75" y2="616.10" stroke="#000" stroke-width="2.8"/>
<line x1="81.2" y1="616.40" x2="88.5" y2="616.40" stroke="#000" stroke-width="2.25"/>
<text x="64.56" y="621.25" font-size="16.60" font-weight="normal" textLength="10.25" lengthAdjust="spacingAndGlyphs">0</text>
<line x1="81.2" y1="568.42" x2="88.5" y2="568.42" stroke="#000" stroke-width="2.25"/>
<text x="54.38" y="573.52" font-size="16.60" font-weight="normal" textLength="20.50" lengthAdjust="spacingAndGlyphs">25</text>
<line x1="81.2" y1="520.44" x2="88.5" y2="520.44" stroke="#000" stroke-width="2.25"/>
<text x="54.31" y="525.79" font-size="16.60" font-weight="normal" textLength="20.50" lengthAdjust="spacingAndGlyphs">50</text>
<line x1="81.2" y1="472.46" x2="88.5" y2="472.46" stroke="#000" stroke-width="2.25"/>
<text x="54.38" y="478.06" font-size="16.60" font-weight="normal" textLength="20.50" lengthAdjust="spacingAndGlyphs">75</text>
<line x1="81.2" y1="424.48" x2="88.5" y2="424.48" stroke="#000" stroke-width="2.25"/>
<text x="44.07" y="430.33" font-size="16.60" font-weight="normal" textLength="30.74" lengthAdjust="spacingAndGlyphs">100</text>
<text transform="translate(31.80,567.65) rotate(-90) scale(0.56,1)" x="0" y="0" font-size="19.70" font-weight="normal" letter-spacing="2.749" stroke="#000" stroke-width="0.5">Clonal frequency</text>
<text transform="translate(31.80,454.85) rotate(-90) scale(0.78,1)" x="0" y="0" font-size="19.70" font-weight="normal" letter-spacing="-0.195" stroke="#000" stroke-width="0.5">(%)</text>
<text transform="translate(231.41,673.50) scale(0.64,1)" x="0" y="0" font-size="20.70" font-weight="normal" letter-spacing="0.869" stroke="#000" stroke-width="0.5">Days post-treatment</text>
<rect x="0" y="0" width="2.7" height="693" fill="#000"/><rect x="0" y="0" width="520" height="2.7" fill="#000"/><rect x="517.3" y="0" width="2.7" height="693" fill="#000"/><rect x="0" y="689.9" width="520" height="3.1" fill="#000"/>
</svg>
</body></html>
